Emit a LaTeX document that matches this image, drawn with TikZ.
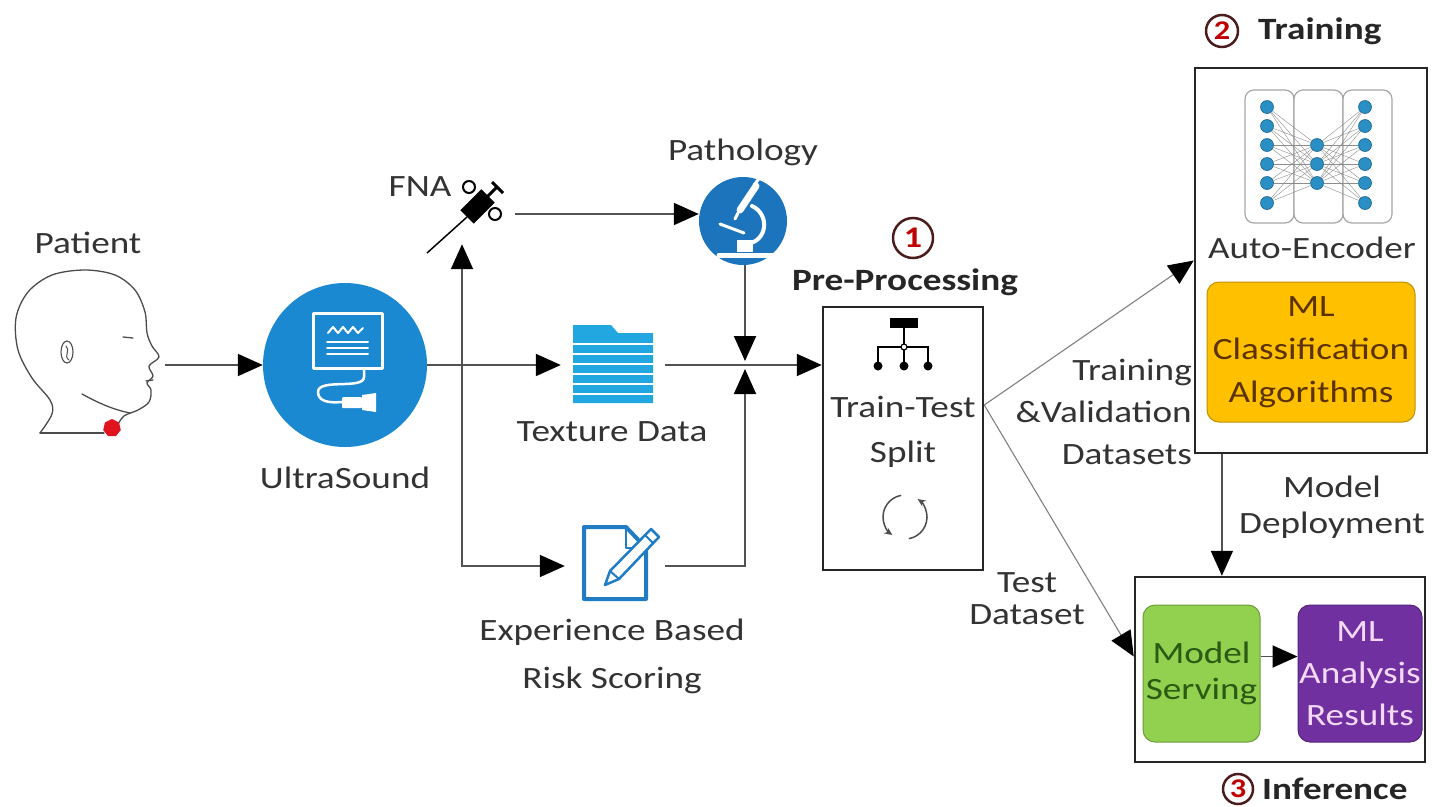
\documentclass[tikz,border=0pt]{standalone}
\usepackage{fontspec}
\setmainfont{Carlito}[FakeStretch=1.2]
\usetikzlibrary{arrows.meta,positioning,calc,shapes.geometric}

\definecolor{usblue}{HTML}{1B88D2}
\definecolor{pathblue}{HTML}{1C75BC}
\definecolor{folderblue}{HTML}{22A7E0}
\definecolor{docblue}{HTML}{1F7CC5}
\definecolor{nnblue}{HTML}{2A8FC4}
\definecolor{txtgray}{HTML}{333333}
\definecolor{mlorange}{HTML}{FFC000}
\definecolor{mlbrown}{HTML}{5C3300}
\definecolor{servgreen}{HTML}{92D050}
\definecolor{servtext}{HTML}{2B5A12}
\definecolor{respurple}{HTML}{7030A0}
\definecolor{restext}{HTML}{F3D9F5}
\definecolor{numred}{HTML}{C00000}
\definecolor{numring}{HTML}{4A1C1C}
\definecolor{headred}{HTML}{E0141E}

\begin{document}
\begin{tikzpicture}[
    x=1pt, y=-1pt,
    font=\fontsize{31}{42}\selectfont,
    tip/.style={-{Triangle[length=25pt,width=22pt,color=black]}},
    flow/.style={tip, draw=black!68, line width=1.9pt},
    thinflow/.style={tip, draw=black!50, line width=1.1pt},
    txt/.style={text=txtgray, inner sep=0pt, align=center},
    heading/.style={text=black!85, inner sep=0pt, font=\fontsize{31}{36}\selectfont\bfseries},
    frame/.style={draw=black!85, line width=2.5pt, inner sep=0pt},
    stepnum/.style={circle, draw=numring, line width=2.5pt, inner sep=0pt, minimum size=#1, text=numred, font=\fontsize{30}{30}\selectfont\bfseries},
    chip/.style={draw=#1!75!black, fill=#1, line width=1pt, rounded corners=12pt, align=center, inner sep=0pt},
    neuron/.style={circle, fill=nnblue, draw=nnblue!70!black, line width=0.6pt, inner sep=0pt, minimum size=13pt},
    glyph/.style={white, line width=3pt, line cap=round, line join=round},
    sketch/.style={black!70, line width=1.3pt, line cap=round, line join=round}
]

% ===== BOUNDS =====
\path[use as bounding box] (0,0) rectangle (1434,806);

% ===== PATIENT =====
\node[txt] (patlbl) at (88,243) {Patient};
\node[inner sep=0pt, minimum width=150pt, minimum height=170pt] (head) at (90,365) {};
\draw[sketch] plot[smooth, tension=0.55] coordinates {(40,433) (52,414) (50,400) (32,378) (18,350) (16,318) (28,292) (52,275) (85,270) (115,275) (135,290) (145,312) (147,333) (152,346) (159,357) (149,366) (153,376) (147,383) (151,390) (149,402) (138,410) (124,416) (117,426)};
\draw[sketch] (82,394) .. controls (100,404) and (115,410) .. (130,413);
\draw[sketch] (40,433) -- (104,433);
\draw[sketch, line width=1.1pt] (67,352) ellipse[x radius=6pt, y radius=11pt];
\draw[sketch, line width=1pt] (66,346) .. controls (71,350) and (63,356) .. (69,360);
\draw[sketch] (123,337) -- (133,338);
\draw[sketch] (146,381) -- (153,380);
\node[regular polygon, regular polygon sides=7, fill=headred, minimum size=18pt, inner sep=0pt] (lump) at (112,428) {};

% ===== ULTRASOUND =====
\node[circle, fill=usblue, minimum size=164pt, inner sep=0pt] (us) at (345,365) {};
\node[txt] (uslbl) at (345,478) {UltraSound};
\draw[glyph] (313,313) rectangle (382,368);
\draw[glyph, line width=2pt] (328,333) -- (333,327) -- (338,333) -- (343,327) -- (348,333) -- (353,327) -- (358,333) -- (363,328);
\foreach \y in {342,348,354}
  \draw[glyph, line width=2pt] (327,\y) -- (368,\y);
\draw[glyph, line width=2.5pt] (364,368) -- (364,377) .. controls (364,390) and (318,378) .. (318,392) .. controls (318,402) and (330,403) .. (342,402);
\fill[white, rounded corners=1pt] (342,397) rectangle (362,408);
\fill[white] (362,395) -- (376,393) -- (376,412) -- (362,410) -- cycle;

% ===== FNA =====
\node[txt] (fnalbl) at (420,187) {FNA};
\node[inner sep=0pt, minimum width=90pt, minimum height=60pt] (fna) at (470,214) {};
\draw[black, line width=1.5pt] (427,253) -- (467,217);
\draw[black, line width=19pt] (467,217) -- (488,196);
\draw[black, line width=3pt] (486,198) -- (497,187);
\draw[black, line width=3pt] (492,182) -- (503,193);
\draw[black, line width=2pt, fill=white] (469,187) circle[radius=6pt] (495,214) circle[radius=6pt];

% ===== PATHOLOGY =====
\node[txt] (patholbl) at (743,152) {Pathology};
\node[circle, fill=pathblue, minimum size=88pt, inner sep=0pt] (patho) at (743,221) {};
\draw[glyph, line width=7pt] (740,210) -- (756,186);
\draw[glyph, line width=3pt] (754,185) -- (761,176);
\draw[glyph, line width=3pt] (738,213) -- (735,219);
\draw[glyph, line width=3pt] (720,224) -- (744,233);
\draw[glyph, line width=4pt] (752,206) .. controls (770,214) and (768,242) .. (746,244);
\fill[white] (737,240) rectangle (753,252);
\draw[glyph, line width=5pt] (719,255) -- (778,255);

% ===== TEXTURE DATA =====
\node[inner sep=0pt, minimum width=104pt, minimum height=80pt] (tex) at (613,365) {};
\fill[folderblue] (573,403) -- (573,325) -- (611,325) -- (618,333) -- (653,333) -- (653,403) -- cycle;
\foreach \y in {344,354,364,374,384,394}
  \draw[white, line width=1.3pt] (573,\y) -- (653,\y);
\node[txt] (texlbl) at (612,432) {Texture Data};

% ===== RISK SCORING =====
\node[inner sep=0pt, minimum width=100pt, minimum height=80pt] (risk) at (615,566) {};
\draw[docblue, line width=4pt, line join=round] (626,527) -- (584,527) -- (584,599) -- (646,599) -- (646,548) -- cycle;
\draw[docblue, line width=2.5pt, line join=round] (626,527) -- (626,548) -- (646,548);
\draw[docblue, line width=2.5pt, fill=white, line join=round] (605,585) -- (619,579) -- (659,537) -- (651,529) -- (610,571) -- cycle;
\draw[docblue, line width=2pt] (610,571) -- (619,579) (645,535) -- (653,543);
\node[txt, font=\fontsize{31}{48}\selectfont] (risklbl) at (612,656) {Experience Based\\Risk Scoring};

% ===== PRE-PROCESSING =====
\node[frame, minimum width=160pt, minimum height=263pt] (pre) at (903,438.5) {};
\node[heading] (prelbl) at (905,282) {Pre-Processing};
\node[stepnum=40pt] (n1) at (913,238) {1};
\node[txt, font=\fontsize{31}{45}\selectfont] (tts) at (903,432) {Train-Test\\Split};
% split symbol
\fill[black] (890,318) rectangle (918,328);
\draw[black, line width=2pt] (904,328) -- (904,364) (878,364) -- (878,347) -- (928,347) -- (928,364);
\draw[black, line width=1.2pt, fill=white] (904,347) circle[radius=3pt];
\foreach \x in {878,904,928}
  \fill[black] (\x,366) circle[radius=4.5pt];
% reshuffle symbol
\draw[black!70, line width=1.5pt, -{Stealth[length=8pt,width=7pt]}] (905,517) ++(100:22pt) arc[start angle=100, end angle=235, radius=22pt];
\draw[black!70, line width=1.5pt, -{Stealth[length=8pt,width=7pt]}] (905,517) ++(280:22pt) arc[start angle=280, end angle=415, radius=22pt];

% ===== TRAINING =====
\node[frame, minimum width=232pt, minimum height=385pt] (train) at (1311,260.5) {};
\node[stepnum=32pt, font=\fontsize{27}{27}\selectfont\bfseries] (n2) at (1222,31) {2};
\node[heading, anchor=west] (trainlbl) at (1258,31) {Training};
\foreach \x in {1245,1294,1343}
  \draw[black!35, fill=white, line width=1.2pt, rounded corners=9pt] (\x,90) rectangle ++(49,133);
\foreach \y [count=\i] in {107,126,145,164,183,203} {
  \node[neuron] (ea\i) at (1267,\y) {};
  \node[neuron] (ec\i) at (1365,\y) {};
}
\foreach \y [count=\j] in {145,164,183}
  \node[neuron] (eb\j) at (1317,\y) {};
\foreach \i in {1,...,6}
  \foreach \j in {1,2,3}
    \draw[black!45, line width=0.4pt] (ea\i) -- (eb\j) (eb\j) -- (ec\i);
\node[txt] (aelbl) at (1312,248) {Auto-Encoder};
\node[chip=mlorange, text=mlbrown, minimum width=208pt, minimum height=140pt, font=\fontsize{31}{43}\selectfont] (mlc) at (1311,352) {ML\\Classification\\Algorithms};

% ===== INFERENCE =====
\node[frame, minimum width=290pt, minimum height=185pt] (infer) at (1280,669.5) {};
\node[chip=servgreen, text=servtext, minimum width=117pt, minimum height=137pt, font=\fontsize{31}{36}\selectfont] (serve) at (1201.5,673.5) {Model\\Serving};
\node[chip=respurple, text=restext, minimum width=124pt, minimum height=137pt] (res) at (1360,673.5) {ML\\Analysis\\Results};
\draw[flow] ([yshift=17pt]serve.east) -- ([yshift=17pt]res.west);
\node[stepnum=30pt, font=\fontsize{27}{27}\selectfont\bfseries] (n3) at (1238,789) {3};
\node[heading, anchor=west] (inflbl) at (1262,789) {Inference};

% ===== DEPLOYMENT =====
\coordinate (dep) at ($(train.south west)!0.12!(train.south east)$);
\draw[flow] (dep) -- (dep |- infer.north);
\node[txt, font=\fontsize{31}{36}\selectfont] (deplbl) at (1332,507) {Model\\Deployment};

% ===== DATA FLOW =====
\draw[flow] (head.east) -- (us.west);
\draw[flow] (us.east) -- (tex.west);
\coordinate (fork) at (462,365);
\draw[flow] (fork) -- (fork |- fna.south);
\draw[flow] (fork) |- (risk.west);
\draw[flow] (fna.east) -- (fna.east -| patho.west);
\coordinate (mix) at (745,365);
\draw[flow] (patho.south -| mix) -- ([yshift=4pt]mix);
\draw[flow] (risk.east) -| ([yshift=-4pt]mix);
\draw[flow] (tex.east) -- (tex.east -| pre.west);

% ===== SPLIT OUTPUTS =====
\coordinate (split) at (pre.east |- 0,405);
\draw[thinflow] (split) -- (train.west);
\draw[thinflow] (split) -- ([yshift=13pt]infer.west);
\node[txt, align=right, anchor=east] (trdata) at (1192,412) {Training\\\&Validation\\Datasets};
\node[txt, font=\fontsize{31}{32}\selectfont] (tstdata) at (1027,599) {Test\\Dataset};

\end{tikzpicture}
\end{document}
